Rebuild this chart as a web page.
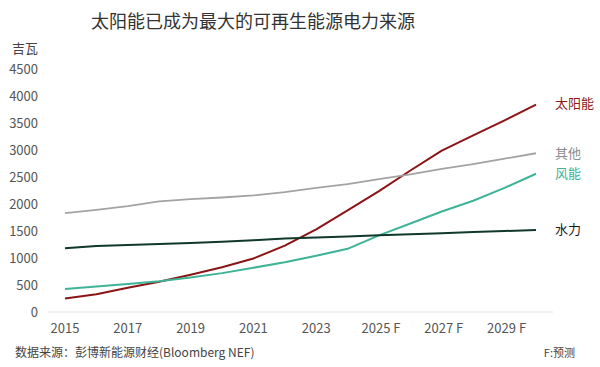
<!DOCTYPE html>
<html>
<head>
<meta charset="utf-8">
<script src="https://cdn.jsdelivr.net/npm/d3@7"></script>
<style>
  body { margin: 0; background: #fff; }
  text { font-family: "Noto Sans CJK SC", "Noto Sans", sans-serif; }
</style>
</head>
<body>
<div id="chart"></div>
<script>
const width = 600, height = 367;
const margin = { top: 69, right: 63, bottom: 54, left: 65 };

const years = d3.range(2015, 2031);
const tickYears = [2015, 2017, 2019, 2021, 2023, 2025, 2027, 2029];
const tickLabels = ["2015", "2017", "2019", "2021", "2023", "2025 F", "2027 F", "2029 F"];
const yTicks = [0, 500, 1000, 1500, 2000, 2500, 3000, 3500, 4000, 4500];

const solar = [250, 330, 450, 560, 690, 830, 990, 1230, 1530, 1880, 2240, 2620, 2990, 3270, 3550, 3840];
const other = [1830, 1890, 1960, 2050, 2090, 2120, 2160, 2220, 2300, 2370, 2460, 2550, 2650, 2740, 2840, 2940];
const wind = [425, 470, 520, 570, 640, 720, 820, 920, 1040, 1170, 1420, 1640, 1860, 2060, 2300, 2560];
const hydro = [1180, 1220, 1240, 1260, 1280, 1300, 1330, 1360, 1380, 1400, 1420, 1440, 1460, 1480, 1500, 1520];

const seriesNames = ["太阳能", "其他", "风能", "水力"];
const seriesValues = [solar, other, wind, hydro];
const seriesColors = ["#8b1414", "#a3a3a3", "#3fb398", "#10382b"];
const labelColors = ["#8b1a1a", "#8c8c8c", "#3fb398", "#1a1a1a"];
const labelOffsets = [-1, 0, 0, 0]; // nudge labels apart

const svg = d3
  .select("#chart")
  .append("svg")
  .attr("width", width)
  .attr("height", height);

const x = d3
  .scaleLinear()
  .domain([2015, 2030])
  .range([margin.left, width - margin.right - 1]);

const y = d3
  .scaleLinear()
  .domain([0, 4500])
  .range([height - margin.bottom - 1, margin.top]);

// title
svg
  .append("text")
  .attr("x", 253)
  .attr("y", 28)
  .attr("text-anchor", "middle")
  .attr("font-size", 18)
  .attr("fill", "#333")
  .text("太阳能已成为最大的可再生能源电力来源");

// unit
svg
  .append("text")
  .attr("x", 12)
  .attr("y", 53)
  .attr("font-size", 13)
  .attr("fill", "#444")
  .text("吉瓦");

// y tick labels, no grid
svg
  .append("g")
  .selectAll("text")
  .data(yTicks)
  .join("text")
  .attr("x", 38)
  .attr("y", (d) => y(d))
  .attr("dy", "0.35em")
  .attr("text-anchor", "end")
  .attr("font-size", 13)
  .attr("fill", "#555")
  .text((d) => d);

// baseline
svg
  .append("line")
  .attr("x1", 48)
  .attr("x2", 553)
  .attr("y1", y(0))
  .attr("y2", y(0))
  .attr("stroke", "#e2e2e2")
  .attr("stroke-width", 1);

// x tick labels
svg
  .append("g")
  .selectAll("text")
  .data(tickYears)
  .join("text")
  .attr("x", (d) => x(d) + (d >= 2025 ? 2 : 0))
  .attr("y", 333)
  .attr("text-anchor", "middle")
  .attr("font-size", 13)
  .attr("fill", "#555")
  .attr("xml:space", "preserve")
  .text((d, i) => tickLabels[i]);

const line = d3
  .line()
  .x((d, i) => x(years[i]))
  .y((d) => y(d));

seriesValues.forEach((vals, k) => {
  svg
    .append("path")
    .datum(vals)
    .attr("fill", "none")
    .attr("stroke", seriesColors[k])
    .attr("stroke-width", k === 1 ? 1.8 : 2)
    .attr("stroke-linejoin", "round")
    .attr("d", line);

  svg
    .append("text")
    .attr("x", 555)
    .attr("y", y(vals[vals.length - 1]) + labelOffsets[k])
    .attr("dy", "0.35em")
    .attr("font-size", 13)
    .attr("fill", labelColors[k])
    .text(seriesNames[k]);
});

// footer
svg
  .append("text")
  .attr("x", 15)
  .attr("y", 357)
  .attr("font-size", 12)
  .attr("fill", "#444")
  .text("数据来源：彭博新能源财经(Bloomberg NEF)");

svg
  .append("text")
  .attr("x", 575)
  .attr("y", 357)
  .attr("text-anchor", "end")
  .attr("font-size", 11)
  .attr("fill", "#444")
  .text("F:预测");
</script>
</body>
</html>
